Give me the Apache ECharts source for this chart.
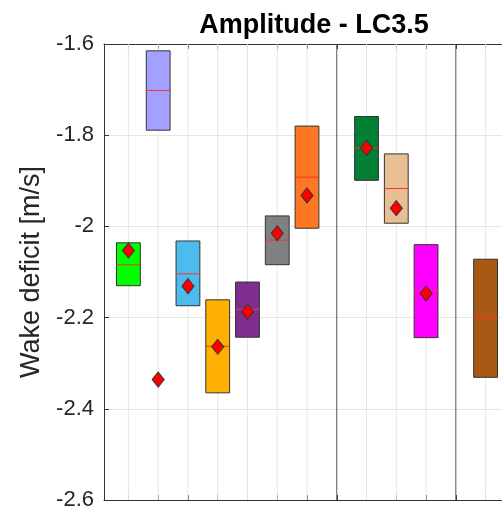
<!DOCTYPE html>
<html>
<head>
<meta charset="utf-8">
<script src="https://cdn.jsdelivr.net/npm/echarts@6/dist/echarts.min.js"></script>
<style>html,body{margin:0;padding:0;background:#fff;overflow:hidden}#c{width:512px;height:515px}</style>
</head>
<body>
<div id="c"></div>
<script>
// ---- data ----
const positions = [1, 2, 3, 4, 5, 6, 7, 9, 10, 11, 13];
const boxLow    = [-2.130, -1.789, -2.174, -2.365, -2.243, -2.084, -2.004, -1.899, -1.993, -2.244, -2.331];
const boxHigh   = [-2.036, -1.615, -2.032, -2.161, -2.122, -1.977, -1.780, -1.759, -1.841, -2.040, -2.072];
const medians   = [-2.084, -1.702, -2.104, -2.263, -2.182, -2.030, -1.892, -1.828, -1.917, -2.141, -2.201];
const meanPos   = [1, 2, 3, 4, 5, 6, 7, 9, 10, 11];
const means     = [-2.053, -2.336, -2.131, -2.264, -2.187, -2.015, -1.932, -1.828, -1.960, -2.147];
const boxColors = ['#00ff00', '#a4a0ff', '#4dbbee', '#ffb000', '#7e2f8e', '#808080', '#ff7722', '#007f35', '#e8bf95', '#ff00ff', '#a85a14'];
const xTicks    = [1, 2, 3, 4, 5, 6, 7, 8, 9, 10, 11, 12, 13];
const separators = [8, 12];

const FONT = 'Liberation Sans, Arial, Helvetica, sans-serif';
const chart = echarts.init(document.getElementById('c'), null, {renderer: 'canvas'});
const boxData = positions.map((p, i) => [p, boxLow[i], boxHigh[i], medians[i]]);
const meanData = meanPos.map((p, i) => [p, means[i]]);

// vertical lines (grid + separators), drawn through the axis scale
const vLineData = xTicks.map(t => [t, separators.indexOf(t) >= 0 ? 1 : 0]);

const option = {
  backgroundColor: '#fff',
  animation: false,
  title: {text: 'Amplitude - LC3.5', left: 309, top: 7, textAlign: 'center',
    textStyle: {fontFamily: FONT, fontWeight: 'bold', fontSize: 27, color: '#000'}},
  grid: {left: 104, top: 44, right: 2, height: 456, containLabel: false},
  xAxis: [{
    type: 'value', min: 0.18, max: 13.82, position: 'bottom',
    axisLine: {show: true, lineStyle: {color: '#333', width: 1}},
    axisTick: {show: true, inside: true, length: 5, customValues: xTicks, lineStyle: {color: '#333'}},
    axisLabel: {show: false, customValues: xTicks},
    splitLine: {show: false}
  }, {
    type: 'value', min: 0.18, max: 13.82, position: 'top',
    axisLine: {show: true, lineStyle: {color: '#333', width: 1}},
    axisTick: {show: true, inside: true, length: 5, customValues: xTicks, lineStyle: {color: '#333'}},
    axisLabel: {show: false, customValues: xTicks},
    splitLine: {show: false}
  }],
  yAxis: [{
    type: 'value', min: -2.6, max: -1.6, interval: 0.2,
    name: 'Wake deficit [m/s]', nameLocation: 'middle', nameGap: 57,
    nameTextStyle: {fontFamily: FONT, fontSize: 27, color: '#262626'},
    axisLine: {show: true, lineStyle: {color: '#333', width: 1}},
    axisTick: {show: true, inside: true, length: 5, lineStyle: {color: '#333'}},
    axisLabel: {fontFamily: FONT, fontSize: 22, color: '#262626', margin: 10,
      formatter: v => String(Number(v.toFixed(1)))},
    splitLine: {show: true, lineStyle: {color: '#e6e6e6', width: 1}}
  }],
  series: [{
    type: 'custom', data: vLineData, encode: {x: 0}, z: 1, silent: true,
    renderItem: function (params, api) {
      const x = api.value(0), sep = api.value(1);
      const p1 = api.coord([x, -1.6]);
      const p2 = api.coord([x, -2.6]);
      return {type: 'line', shape: {x1: p1[0], y1: p1[1], x2: p2[0], y2: p2[1]},
        style: {stroke: sep ? '#555' : '#e6e6e6', lineWidth: 1}, z2: sep ? 10 : 0};
    }
  }, {
    type: 'custom', data: boxData, encode: {x: 0, y: [1, 2, 3]}, z: 3,
    renderItem: function (params, api) {
      const x = api.value(0), lo = api.value(1), hi = api.value(2), med = api.value(3);
      const hw = 0.4;
      const a = api.coord([x - hw, hi]);
      const b = api.coord([x + hw, lo]);
      const m1 = api.coord([x - hw, med]);
      const m2 = api.coord([x + hw, med]);
      return {type: 'group', children: [
        {type: 'rect', shape: {x: a[0], y: a[1], width: b[0] - a[0], height: b[1] - a[1]},
          style: {fill: boxColors[params.dataIndex], stroke: '#333', lineWidth: 1}},
        {type: 'line', shape: {x1: m1[0], y1: m1[1], x2: m2[0], y2: m2[1]},
          style: {stroke: '#ff3030', lineWidth: 1}}]};
    }
  }, {
    type: 'scatter', data: meanData, symbol: 'diamond', symbolSize: [12, 15], z: 5,
    itemStyle: {color: '#ff0000', borderColor: '#333', borderWidth: 1, opacity: 1}
  }]
};
chart.setOption(option);
</script>
</body>
</html>
